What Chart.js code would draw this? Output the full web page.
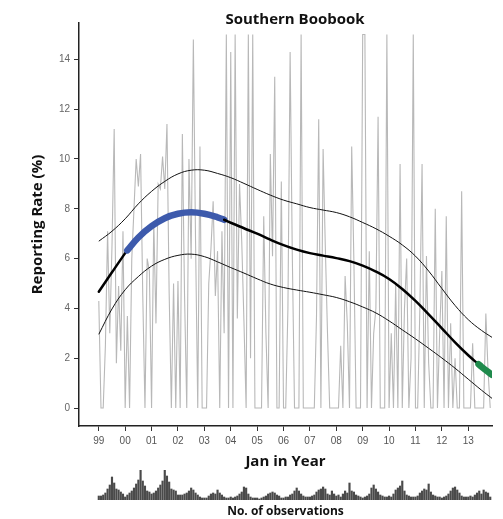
<!DOCTYPE html>
<html>
<head>
<meta charset="utf-8">
<script src="https://cdn.jsdelivr.net/npm/chart.js@4.4.1/dist/chart.umd.min.js"></script>
<style>
  body { margin: 0; background: #fff; }
  #wrap { position: relative; width: 503px; height: 519px; }
  #trend { position: absolute; left: 0; top: 0; }
  #obs { position: absolute; left: 0; top: 466px; }
</style>
</head>
<body>
<div id="wrap">
  <canvas id="trend" width="503" height="475"></canvas>
  <canvas id="obs" width="503" height="53"></canvas>
</div>
<script>
// years on the x axis are counted from Jan 1999 (0 = Jan 1999)
const yearTicks  = [0, 1, 2, 3, 4, 5, 6, 7, 8, 9, 10, 11, 12, 13, 14];
const yearLabels = ['99', '00', '01', '02', '03', '04', '05', '06', '07', '08', '09', '10', '11', '12', '13'];
const rateTicks  = [0, 2, 4, 6, 8, 10, 12, 14];

// monthly reporting rate (%), Jan 1999 .. Nov 2013
const monthlyRate = [
  4.3, 0, 0, 2.5, 7.1, 3.0, 6.5, 11.2, 1.8, 4.9, 2.3, 7.1,
  0, 3.7, 0, 6.0, 8.0, 10.0, 8.9, 10.2, 4.5, 0, 6.0, 5.5,
  0, 7.5, 3.4, 9.0, 8.8, 10.1, 8.8, 11.4, 4.6, 0, 5.0, 0,
  5.1, 0, 11.0, 4.5, 0, 10.0, 6.0, 14.8, 6.7, 0, 10.5, 0,
  0, 0, 5.0, 6.4, 8.3, 4.5, 6.3, 0, 7.1, 3.0, 15, 0,
  14.3, 0, 15, 3.6, 9.0, 6.7, 3.5, 0, 15, 2.0, 15, 0,
  0, 0, 0, 7.7, 3.0, 0, 10.2, 6.1, 13.3, 0, 0, 9.1,
  0, 0, 4.0, 14.3, 6.1, 0, 0, 0, 15, 0, 0, 0,
  0, 0, 0, 3.7, 11.6, 0, 10.4, 6.5, 3.0, 0, 0, 0,
  0, 0, 2.5, 0, 5.3, 3.4, 0, 10.5, 5.9, 0, 0, 0,
  15, 15, 0, 6.3, 0, 3.0, 4.0, 11.7, 0, 0, 0, 15,
  0, 3.0, 0, 5.0, 0, 9.8, 0, 4.0, 6.0, 0, 2.0, 15,
  0, 0, 4.0, 9.8, 0, 6.1, 1.8, 0, 0, 8.0, 0, 3.0,
  5.5, 0, 7.7, 0, 3.4, 0, 2.0, 0, 0, 8.7, 0, 0,
  0, 0, 2.6, 0, 0, 0, 0, 0, 3.8, 1.5, 0
];

// number of observations per month
const monthlyObs = [
  4, 4, 5, 7, 11, 15, 23, 17, 11, 10, 8, 6,
  3, 5, 7, 9, 12, 16, 20, 30, 19, 14, 9, 8,
  6, 7, 9, 12, 15, 19, 30, 24, 18, 11, 10, 9,
  5, 5, 5, 6, 7, 9, 12, 10, 7, 5, 3, 2,
  2, 2, 4, 6, 7, 6, 10, 7, 5, 3, 2, 2,
  3, 2, 3, 4, 6, 8, 13, 12, 6, 3, 2, 2,
  2, 1, 2, 3, 4, 6, 7, 8, 7, 5, 4, 2,
  2, 3, 3, 5, 6, 9, 12, 9, 6, 4, 3, 3,
  3, 4, 5, 8, 10, 11, 13, 11, 6, 5, 9, 6,
  4, 5, 3, 6, 9, 7, 17, 9, 8, 5, 4, 3,
  2, 3, 4, 6, 12, 15, 11, 8, 5, 4, 3, 3,
  4, 3, 6, 10, 12, 14, 19, 9, 5, 4, 3, 3,
  3, 4, 7, 9, 11, 10, 16, 8, 5, 4, 3, 3,
  2, 3, 4, 6, 9, 12, 13, 10, 7, 4, 3, 3,
  3, 4, 3, 5, 7, 9, 6, 10, 8, 7, 3
];

// smoothed trend and its confidence band
const trendX    = [0, 0.5, 1, 1.08, 1.5, 2, 2.5, 3, 3.5, 4, 4.5, 4.75, 5, 5.5, 6, 6.5, 7, 7.5, 8, 8.5, 9, 9.5, 10, 10.5, 11, 11.5, 12, 12.5, 13, 13.5, 14, 14.39, 14.5, 14.9];
const trendMean = [4.67, 5.45, 6.22, 6.33, 6.85, 7.30, 7.62, 7.80, 7.86, 7.80, 7.66, 7.56, 7.44, 7.22, 7.00, 6.76, 6.54, 6.36, 6.22, 6.12, 6.02, 5.90, 5.72, 5.48, 5.18, 4.78, 4.30, 3.76, 3.20, 2.64, 2.12, 1.76, 1.66, 1.33];
const bandX     = [0, 0.5, 1, 1.5, 2, 2.5, 3, 3.5, 4, 4.5, 5, 5.5, 6, 6.5, 7, 7.5, 8, 8.5, 9, 9.5, 10, 10.5, 11, 11.5, 12, 12.5, 13, 13.5, 14, 14.5, 14.9];
const bandUpper = [6.70, 7.10, 7.60, 8.20, 8.70, 9.10, 9.40, 9.55, 9.55, 9.42, 9.25, 9.02, 8.78, 8.55, 8.35, 8.20, 8.05, 7.95, 7.85, 7.68, 7.45, 7.20, 6.90, 6.55, 6.10, 5.50, 4.80, 4.12, 3.55, 3.12, 2.84];
const bandLower = [2.96, 3.98, 4.75, 5.28, 5.70, 5.97, 6.13, 6.18, 6.08, 5.87, 5.64, 5.42, 5.19, 4.98, 4.84, 4.74, 4.65, 4.55, 4.44, 4.27, 4.06, 3.82, 3.50, 3.14, 2.78, 2.40, 2.01, 1.60, 1.16, 0.72, 0.39];

// stretches of significant change in the trend
const riseSpan = [1.08, 4.75];
const fallSpan = [14.39, 14.9];

const X_MIN = -0.75, X_MAX = 14.9;
const tickFont = { family: '"Liberation Sans", Arial, sans-serif', size: 10 };
const boldFont = (size) => ({ family: '"Open Sans", sans-serif', size: size, weight: 'bold' });

const inSpan = (ctx, span) => ctx.p0.parsed.x >= span[0] - 1e-6 && ctx.p1.parsed.x <= span[1] + 1e-6;

// chart heading, drawn on its own so it can sit right of centre
const headline = {
  id: 'headline',
  afterDraw(chart, args, opts) {
    const ctx = chart.ctx;
    ctx.save();
    ctx.font = opts.font;
    ctx.fillStyle = opts.color;
    ctx.textAlign = 'center';
    ctx.textBaseline = 'middle';
    ctx.fillText(opts.text, opts.x, opts.y);
    ctx.restore();
  }
};

new Chart(document.getElementById('trend'), {
  type: 'line',
  plugins: [headline],
  data: {
    datasets: [
      {
        label: 'Trend',
        data: trendX.map((x, i) => ({ x: x, y: trendMean[i] })),
        borderColor: '#000',
        borderWidth: 2.5,
        pointRadius: 0,
        tension: 0.4,
        borderCapStyle: 'round',
        order: 0,
        segment: {
          borderColor: ctx => inSpan(ctx, riseSpan) ? '#3d5aac' : inSpan(ctx, fallSpan) ? '#1f8a4c' : undefined,
          borderWidth: ctx => (inSpan(ctx, riseSpan) || inSpan(ctx, fallSpan)) ? 6.5 : undefined
        }
      },
      {
        label: 'Upper',
        data: bandX.map((x, i) => ({ x: x, y: bandUpper[i] })),
        borderColor: '#111',
        borderWidth: 1,
        pointRadius: 0,
        tension: 0.4,
        order: 1
      },
      {
        label: 'Lower',
        data: bandX.map((x, i) => ({ x: x, y: bandLower[i] })),
        borderColor: '#111',
        borderWidth: 1,
        pointRadius: 0,
        tension: 0.4,
        order: 1
      },
      {
        label: 'Reporting rate',
        data: monthlyRate.map((v, i) => ({ x: i / 12, y: v })),
        borderColor: '#b8b8b8',
        borderWidth: 1.1,
        pointRadius: 0,
        tension: 0,
        order: 2
      }
    ]
  },
  options: {
    responsive: false,
    animation: false,
    layout: { padding: { top: 23, right: 11, left: 0, bottom: 0 } },
    plugins: {
      legend: { display: false },
      tooltip: { enabled: false },
      headline: { text: 'Southern Boobook', x: 295, y: 20, font: 'bold 15px "Open Sans", sans-serif', color: '#111' }
    },
    scales: {
      x: {
        type: 'linear',
        min: X_MIN,
        max: X_MAX,
        afterBuildTicks: s => { s.ticks = yearTicks.map(v => ({ value: v })); },
        afterFit: s => { s.height = 49; },
        grid: { drawOnChartArea: false, tickLength: 5, color: '#333' },
        border: { color: '#222', width: 1.5 },
        ticks: {
          autoSkip: false,
          maxRotation: 0,
          padding: 4,
          color: '#555',
          font: tickFont,
          callback: (v, i) => yearLabels[i]
        },
        title: { display: true, text: 'Jan in Year', color: '#111', font: boldFont(15), padding: { top: 0, bottom: 4 } }
      },
      y: {
        min: -0.72,
        max: 15.46,
        afterBuildTicks: s => { s.ticks = rateTicks.map(v => ({ value: v })); },
        afterFit: s => { s.width = 79; },
        grid: { drawOnChartArea: false, tickLength: 5, color: '#333' },
        border: { color: '#222', width: 1.5 },
        ticks: { padding: 4, color: '#666', font: tickFont },
        title: { display: true, text: 'Reporting Rate (%)', color: '#111', font: boldFont(15), padding: { top: 29, bottom: 0 } }
      }
    }
  }
});

// observation counts underneath, on the same time axis
new Chart(document.getElementById('obs'), {
  type: 'bar',
  data: {
    datasets: [{
      label: 'No. of observations',
      data: monthlyObs.map((v, i) => ({ x: i / 12, y: v })),
      backgroundColor: '#4a4a4a',
      barThickness: 1.5
    }]
  },
  options: {
    responsive: false,
    animation: false,
    layout: { padding: { top: 4, right: 11, left: 79, bottom: 0 } },
    plugins: { legend: { display: false }, tooltip: { enabled: false } },
    scales: {
      x: {
        type: 'linear',
        min: X_MIN,
        max: X_MAX,
        offset: false,
        afterFit: s => { s.height = 19; },
        grid: { display: false },
        border: { display: false },
        ticks: { display: false },
        title: { display: true, text: 'No. of observations', color: '#111', font: boldFont(12), padding: { top: 0, bottom: 0 } }
      },
      y: { display: false, min: 0, max: 30 }
    }
  }
});
</script>
</body>
</html>
